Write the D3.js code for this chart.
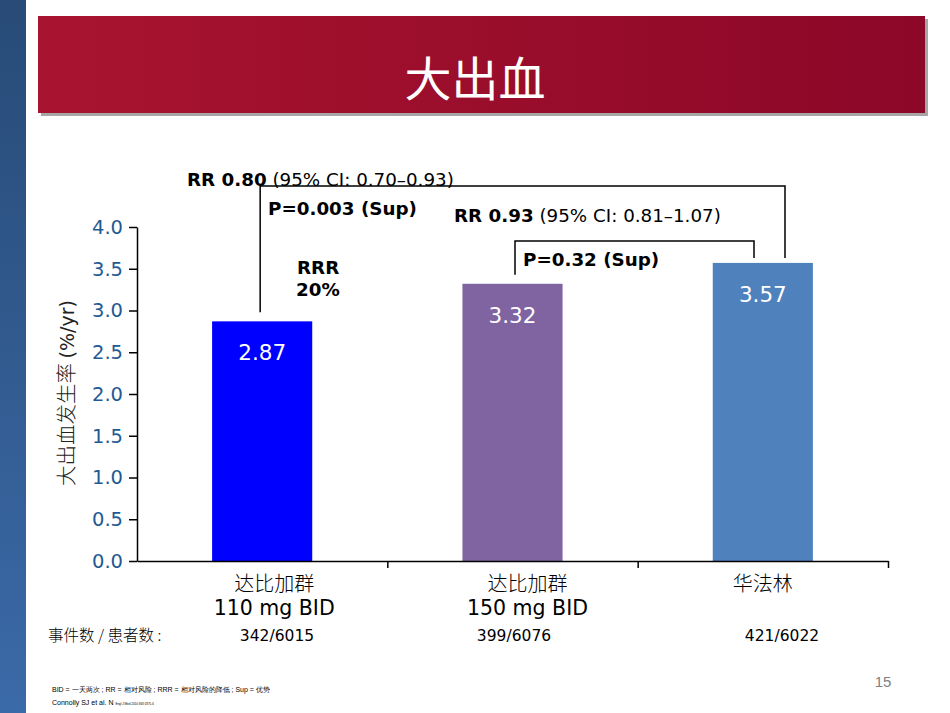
<!DOCTYPE html>
<html><head><meta charset="utf-8">
<script src="https://cdn.jsdelivr.net/npm/d3@7/dist/d3.min.js"></script>
<style>body{margin:0;background:#fff;}svg{display:block;}</style>
</head><body>
<svg id="c" width="950" height="713"></svg>
<script>
const categories = ["dab110", "dab150", "warfarin"];
const catLine1 = ["达比加群", "达比加群", "华法林"];
const catLine2 = ["110 mg BID", "150 mg BID", ""];
const values = [2.87, 3.32, 3.57];
const events = ["342/6015", "399/6076", "421/6022"];
const barColors = ["#0000ff", "#8064a2", "#4f81bd"];
const yTicks = [0, 0.5, 1.0, 1.5, 2.0, 2.5, 3.0, 3.5, 4.0];

const svg = d3.select("#c");
const defs = svg.append("defs");
const sg = defs.append("linearGradient").attr("id","side").attr("x1",0).attr("y1",0).attr("x2",0).attr("y2",1);
sg.append("stop").attr("offset","0%").attr("stop-color","#284b77");
sg.append("stop").attr("offset","100%").attr("stop-color","#3b6aa8");
const bg = defs.append("linearGradient").attr("id","ban").attr("x1",0).attr("y1",0).attr("x2",1).attr("y2",0);
bg.append("stop").attr("offset","0%").attr("stop-color","#a8142f");
bg.append("stop").attr("offset","100%").attr("stop-color","#8c0728");

svg.append("rect").attr("x",0).attr("y",0).attr("width",26).attr("height",713).attr("fill","url(#side)");
svg.append("rect").attr("x",41).attr("y",19).attr("width",887).attr("height",97).attr("fill","#a6a6a6");
svg.append("rect").attr("x",38).attr("y",16).attr("width",887).attr("height",97).attr("fill","url(#ban)");
svg.append("text").attr("x",475).attr("y",96).attr("text-anchor","middle")
  .attr("font-family","Noto Sans CJK SC").attr("font-size",47).attr("fill","#fff").text("大出血");

const x = d3.scaleBand().domain(categories).range([137, 888]).paddingInner(0.6).paddingOuter(0.3);
const y = d3.scaleLinear().domain([0, 4]).range([561, 227]);

// bars
svg.selectAll("rect.bar").data(values).join("rect").attr("class","bar")
  .attr("x",(d,i)=>x(categories[i])).attr("width",x.bandwidth())
  .attr("y",d=>y(d)).attr("height",d=>y(0)-y(d)).attr("fill",(d,i)=>barColors[i]);
svg.selectAll("text.val").data(values).join("text").attr("class","val")
  .attr("x",(d,i)=>x(categories[i])+x.bandwidth()/2).attr("y",d=>y(d)+39)
  .attr("text-anchor","middle").attr("font-family","DejaVu Sans").attr("font-size",21.5).attr("fill","#fff")
  .text(d=>d.toFixed(2));

// y axis
const ya = svg.append("g").attr("transform","translate(137,0)")
  .call(d3.axisLeft(y).tickValues(yTicks).tickFormat(d3.format(".1f")).tickSize(8).tickSizeOuter(0));
ya.select(".domain").attr("stroke","#000").attr("stroke-width",1.5);
ya.selectAll(".tick line").attr("stroke","#000").attr("stroke-width",1.5);
ya.selectAll(".tick text").attr("font-family","DejaVu Sans").attr("font-size",19.5).attr("fill","#1f5a94").attr("x",-14);

// x axis
const xEdges = d3.scaleLinear().domain([0,3]).range([137,888]);
const xa = svg.append("g").attr("transform","translate(0,561)")
  .call(d3.axisBottom(xEdges).tickValues([1,2,3]).tickSize(7).tickFormat("").tickSizeOuter(0));
xa.select(".domain").attr("stroke","#000").attr("stroke-width",1.5);
xa.selectAll(".tick line").attr("stroke","#000").attr("stroke-width",1.5);

const yl = svg.append("text").attr("transform","translate(74,393) rotate(-90)").attr("text-anchor","middle")
  .attr("font-size",20.5).attr("fill","#222");
yl.append("tspan").attr("font-family","Noto Sans CJK SC").attr("font-weight",300).text("大出血发生率 ");
yl.append("tspan").attr("font-family","DejaVu Sans").attr("font-size",19).text("(%/yr)");

// category labels
const labelShift = [12, 15, 0];
categories.forEach((c,i)=>{
  const cx = x(c)+x.bandwidth()/2 + labelShift[i];
  svg.append("text").attr("x",cx).attr("y",591).attr("text-anchor","middle")
    .attr("font-family","Noto Sans CJK SC").attr("font-weight",300).attr("font-size",20).attr("fill","#000").text(catLine1[i]);
  if(catLine2[i]) svg.append("text").attr("x",cx).attr("y",615).attr("text-anchor","middle")
    .attr("font-family","DejaVu Sans").attr("font-size",20.5).attr("fill","#000").text(catLine2[i]);
});
svg.append("text").attr("x",48).attr("y",641).attr("font-family","Noto Sans CJK SC").attr("font-weight",300).attr("font-size",15.5).attr("fill","#000").text("事件数 / 患者数 :");
const evX = [277, 514, 782];
events.forEach((e,i)=>svg.append("text").attr("x",evX[i]).attr("y",641).attr("text-anchor","middle")
  .attr("font-family","DejaVu Sans").attr("font-size",15.5).attr("fill","#000").text(e));

// brackets
const bx = i => x(categories[i]) + x.bandwidth()/2;
const line = d3.line();
svg.append("path").attr("d", line([[bx(0)-2, y(2.87)-9],[bx(0)-2,186],[785,186],[785,258]]))
  .attr("fill","none").attr("stroke","#000").attr("stroke-width",1.5);
svg.append("path").attr("d", line([[515, y(3.32)-9],[515,241],[754,241],[754,258]]))
  .attr("fill","none").attr("stroke","#000").attr("stroke-width",1.5);

function rich(xp, yp, bold, normal){
  const t = svg.append("text").attr("x",xp).attr("y",yp).attr("font-family","DejaVu Sans").attr("font-size",18.3).attr("fill","#000");
  t.append("tspan").attr("font-weight","bold").text(bold);
  if(normal) t.append("tspan").text(normal);
}
rich(187, 186, "RR 0.80", " (95% CI: 0.70–0.93)");
rich(268, 215, "P=0.003 (Sup)", "");
rich(454, 222, "RR 0.93", " (95% CI: 0.81–1.07)");
rich(523, 266, "P=0.32 (Sup)", "");
rich(297, 274, "RRR", "");
rich(296, 296, "20%", "");

// footnotes
svg.append("text").attr("x",52).attr("y",692).attr("font-family","Liberation Sans").attr("font-size",7).attr("fill","#000")
  .text("BID =  一天两次 ; RR =  相对风险 ; RRR =  相对风险的降低 ; Sup =  优势");
const ft = svg.append("text").attr("x",52).attr("y",705).attr("font-family","Liberation Sans").attr("font-size",7).attr("fill","#000");
ft.append("tspan").text("Connolly SJ et al. N ");
ft.append("tspan").attr("font-size",3).text("Engl J Med 2010;363:1875-6");
svg.append("text").attr("x",883).attr("y",687).attr("text-anchor","middle").attr("font-family","Liberation Sans").attr("font-size",15).attr("fill","#7f7f7f").text("15");
</script>
</body></html>
